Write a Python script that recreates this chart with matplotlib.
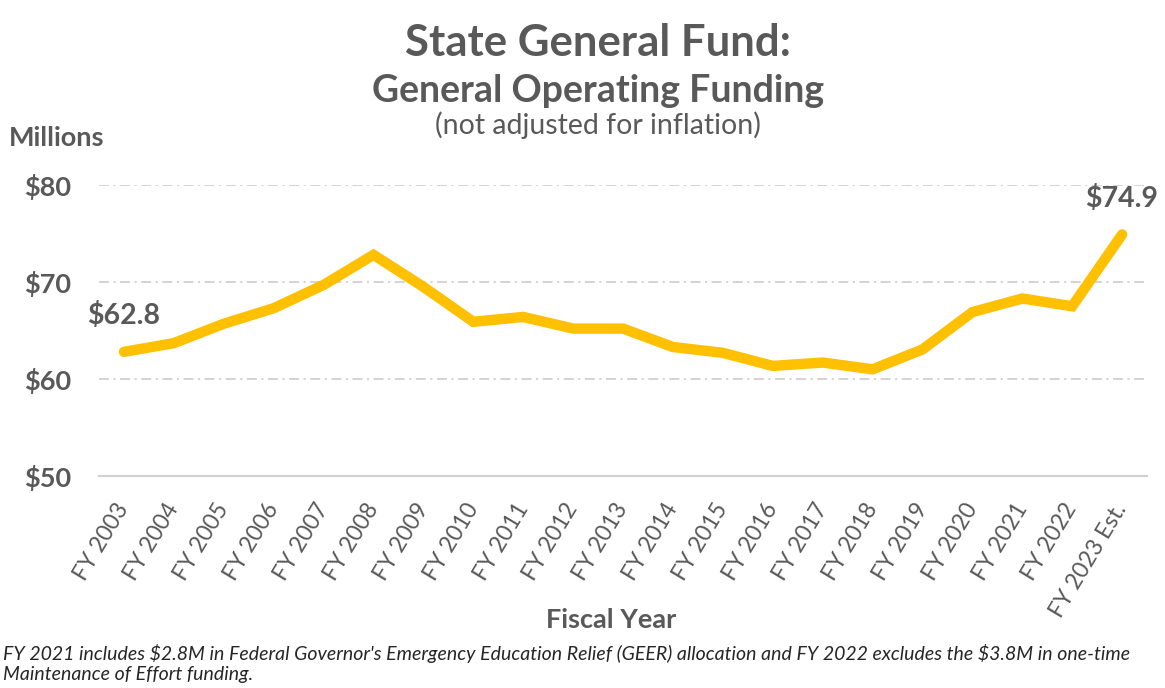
import matplotlib.pyplot as plt
from matplotlib.transforms import ScaledTranslation
import numpy as np

years = ['FY 2003', 'FY 2004', 'FY 2005', 'FY 2006', 'FY 2007', 'FY 2008', 'FY 2009',
         'FY 2010', 'FY 2011', 'FY 2012', 'FY 2013', 'FY 2014', 'FY 2015', 'FY 2016',
         'FY 2017', 'FY 2018', 'FY 2019', 'FY 2020', 'FY 2021', 'FY 2022', 'FY 2023 Est.']
funding = [62.8, 63.7, 65.7, 67.3, 69.7, 72.8, 69.5, 65.9, 66.4, 65.2, 65.2,
           63.3, 62.7, 61.35, 61.7, 61.0, 63.05, 66.9, 68.3, 67.5, 74.9]
yticks = [50, 60, 70, 80]

grey = '#595959'
plt.rcParams['font.family'] = ['Lato', 'DejaVu Sans']

fig = plt.figure(figsize=(11.65, 6.88), dpi=100)
ax = fig.add_axes([0.085, 0.3081, 0.8996, 0.423])

x = np.arange(len(years))
ax.plot(x, funding, color='#FFC000', linewidth=7.5, solid_capstyle='round',
        solid_joinstyle='miter', clip_on=False)

ax.set_xlim(-0.5, len(years) - 0.5)
ax.set_ylim(50, 80)
ax.set_yticks(yticks)
ax.set_yticklabels(['$%d' % v for v in yticks], fontsize=19.5, fontweight='bold', color=grey)
for v in yticks[1:]:
    ax.axhline(v, color='#D0D0D0', linewidth=1.3, linestyle=(0, (5.5, 2.5, 1.2, 2.5)), zorder=0)
ax.axhline(50, color='#D0D0D0', linewidth=1.5, zorder=0, clip_on=False)

ax.set_xticks(x)
ax.set_xticklabels(years, rotation=59, ha='right', va='center', rotation_mode='anchor',
                   fontsize=16.5, color=grey)
shift = ScaledTranslation(10 / 72, 0, fig.dpi_scale_trans)
for lbl in ax.get_xticklabels():
    lbl.set_transform(lbl.get_transform() + shift)
ax.tick_params(axis='both', length=0)
ax.tick_params(axis='x', pad=21)
ax.tick_params(axis='y', pad=20)
for s in ax.spines.values():
    s.set_visible(False)

ax.annotate('$%.1f' % funding[0], (x[0], funding[0]), xytext=(0, 26), textcoords='offset points',
            ha='center', va='center', fontsize=20.5, fontweight='bold', color=grey)
ax.annotate('$%.1f' % funding[-1], (x[-1], funding[-1]), xytext=(0, 26), textcoords='offset points',
            ha='center', va='center', fontsize=20.5, fontweight='bold', color=grey,
            annotation_clip=False)

fig.text(0.513, 0.937, 'State General Fund:', ha='center', va='center', fontsize=31.5,
         fontweight='bold', color=grey)
fig.text(0.513, 0.868, 'General Operating Funding', ha='center', va='center', fontsize=27,
         fontweight='bold', color=grey)
fig.text(0.513, 0.818, '(not adjusted for inflation)', ha='center', va='center', fontsize=20.5,
         color=grey)
fig.text(0.008, 0.799, 'Millions', ha='left', va='center', fontsize=19.5, fontweight='bold', color=grey)
fig.text(0.525, 0.099, 'Fiscal Year', ha='center', va='center', fontsize=19.5, fontweight='bold',
         color=grey)
fig.text(0.003, 0.036, "FY 2021 includes \\$2.8M in Federal Governor's Emergency Education Relief (GEER) "
         "allocation and FY 2022 excludes the \\$3.8M in one-time\nMaintenance of Effort funding.",
         ha='left', va='center', fontsize=14, style='italic', color='#262626', linespacing=1.2)

fig.savefig('out.png', dpi=100)
